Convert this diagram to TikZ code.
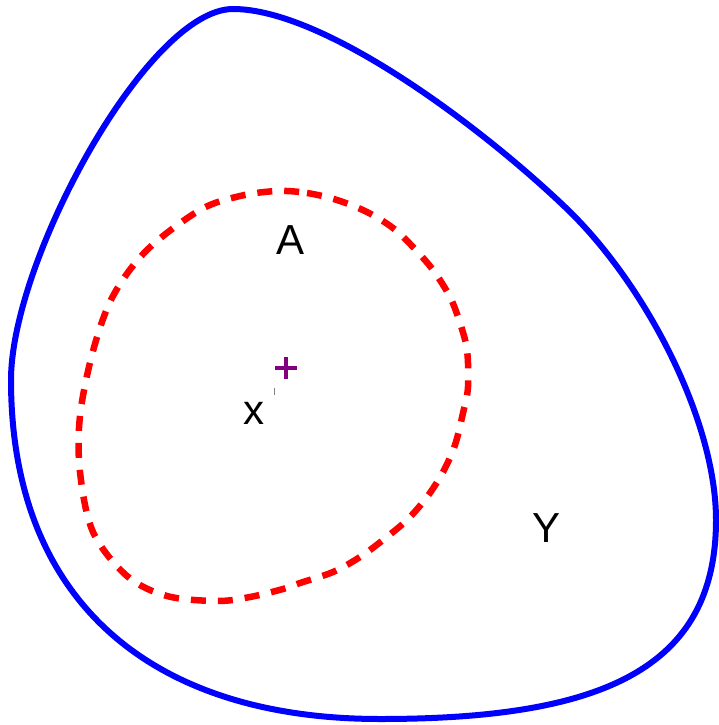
\documentclass[tikz,border=0pt]{standalone}
\usepackage{fontspec}
\setmainfont{Liberation Sans}
\definecolor{plusviolet}{RGB}{128,0,128}
\begin{document}
\begin{tikzpicture}[x=1pt,y=-1pt,
  outer/.style={draw=blue,line width=6pt},
  inner/.style={draw=red,line width=6.5pt,dash pattern=on 15pt off 12pt},
  lbl/.style={font=\fontsize{42}{44}\selectfont,inner sep=0pt},
  marker/.style={draw=plusviolet,line width=3.2pt}]
\useasboundingbox (0,0) rectangle (719,725);
\coordinate (T) at (233,9);
\coordinate (M) at (565,207);
\coordinate (R) at (716,520);
\coordinate (B) at (380,719);
\coordinate (L) at (11,380);
\draw[outer] (T) .. controls (323,9) and (478,124) .. (M)
  .. controls (645,283) and (716,420) .. (R)
  .. controls (716,670) and (600,719) .. (B)
  .. controls (150,719) and (11,600) .. (L)
  .. controls (11,260) and (148,9) .. (T) -- cycle;
\draw[inner] plot[smooth cycle,tension=0.55] coordinates{
 (277,191) (307,193) (337,200) (367,212) (393,228) (413,247) (433,270) (450,297)
 (460,323) (467,350) (468,387) (463,413) (455,445) (443,472) (427,497) (407,520)
 (383,540) (360,557) (333,572) (300,583) (283,589) (250,597) (217,601) (167,596)
 (127,576) (93,532) (80,472) (80,416) (93,351) (113,296) (147,250) (200,210) (240,196)};
\node[lbl] (A) at (291,240) {A};
\node[lbl] (Y) at (546,528) {Y};
\node[lbl] (x) at (254,413) {x};
\coordinate (tick) at (274,391);
\draw[gray,line width=1pt] ([yshift=-3.5pt]tick) -- ([yshift=3.5pt]tick);
\coordinate (c) at (286,368);
\draw[marker] ([xshift=-11pt]c) -- ([xshift=11pt]c) ([yshift=-11pt]c) -- ([yshift=11pt]c);
\end{tikzpicture}
\end{document}
